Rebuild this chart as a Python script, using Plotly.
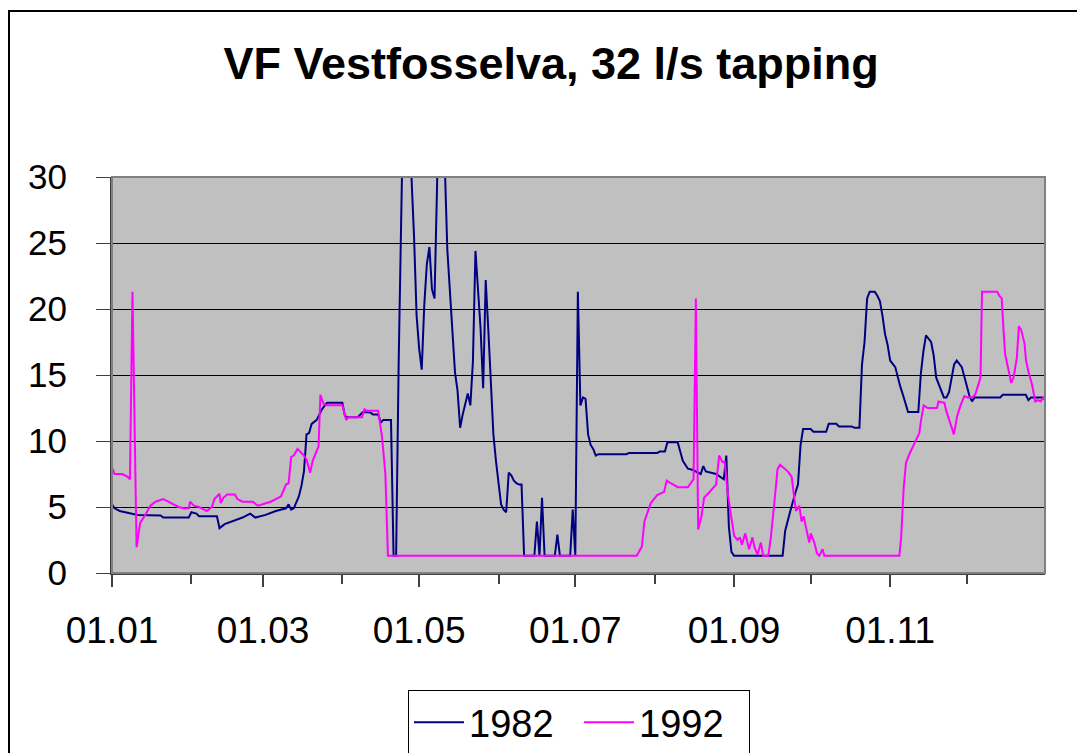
import pandas as pd
import plotly.graph_objects as go

# day of year (0 = 1 Jan) and flow in l/s
days_1982 = [0, 1, 3, 7, 10, 19, 20, 30, 31, 33, 34, 41, 42, 44, 47, 51, 54, 56, 60, 64,
             68, 69, 70, 71, 73, 74, 75, 76, 77, 78, 80, 82, 84, 90, 91, 92, 96, 98, 101, 102,
             104, 105, 106, 109, 110, 111, 112, 113, 114, 116, 117, 118, 119, 120, 121, 122, 123, 124, 125, 126,
             127, 128, 129, 130, 131, 132, 133, 134, 135, 136, 137, 138, 139, 140, 141, 142, 143, 144, 145, 146,
             147, 148, 149, 150, 151, 152, 153, 154, 155, 156, 157, 158, 159, 160, 161, 165, 166, 167, 168, 169,
             173, 174, 175, 179, 180, 181, 182, 183, 184, 185, 186, 187, 188, 189, 190, 201, 202, 213, 214, 216,
             217, 221, 222, 223, 225, 227, 230, 231, 232, 234, 236, 239, 240, 241, 242, 243, 262, 263, 264, 265,
             267, 268, 269, 270, 273, 274, 279, 280, 283, 284, 289, 290, 292, 293, 294, 295, 296, 298, 299, 300,
             301, 302, 303, 304, 306, 307, 308, 309, 311, 315, 316, 317, 318, 320, 321, 322, 324, 325, 326, 327,
             329, 330, 332, 333, 335, 336, 337, 347, 348, 357, 358, 359, 364]
flow_1982 = [5.2, 4.9, 4.7, 4.5, 4.4, 4.35, 4.2, 4.2, 4.6, 4.5, 4.3, 4.3, 3.4, 3.7, 3.9, 4.2, 4.5, 4.2, 4.4, 4.7,
             4.9, 5.2, 4.8, 4.9, 5.8, 6.6, 7.7, 10.5, 10.6, 11.3, 11.6, 12.4, 12.9, 12.9, 11.9, 11.8, 11.8, 12.2, 12.15, 12.0,
             12.0, 11.4, 11.6, 11.6, 1.3, 1.3, 16.0, 31.0, 38.0, 33.0, 30.0, 25.5, 19.5, 17.0, 15.4, 20.3, 23.4, 24.7, 21.5, 20.8,
             31.0, 38.0, 36.0, 31.0, 24.5, 21.5, 18.0, 15.2, 13.8, 11.0, 12.0, 12.8, 13.6, 12.7, 16.0, 24.4, 21.0, 18.5, 14.0, 22.2,
             18.5, 15.0, 10.5, 8.5, 6.8, 5.2, 4.8, 4.6, 7.6, 7.4, 7.0, 6.8, 6.7, 6.7, 1.3, 1.3, 3.9, 1.3, 5.7, 1.3,
             1.3, 2.9, 1.3, 1.3, 4.8, 1.3, 21.3, 12.7, 13.3, 13.2, 10.5, 9.7, 9.4, 8.9, 9.0, 9.0, 9.1, 9.1, 9.2, 9.2,
             9.9, 9.9, 9.2, 8.5, 7.9, 7.8, 7.5, 8.1, 7.7, 7.6, 7.5, 7.1, 8.9, 3.5, 1.6, 1.3, 1.3, 3.2, 4.0, 4.7,
             6.1, 6.7, 9.7, 10.9, 10.9, 10.7, 10.7, 11.3, 11.3, 11.1, 11.1, 11.0, 11.0, 15.8, 17.5, 20.8, 21.3, 21.3, 21.0, 20.6,
             19.5, 18.1, 17.3, 16.1, 15.6, 14.8, 14.1, 13.5, 12.2, 12.2, 15.1, 16.8, 18.0, 17.5, 16.5, 14.8, 13.8, 13.3, 13.3, 13.7,
             15.8, 16.1, 15.6, 14.8, 13.4, 13.0, 13.3, 13.3, 13.5, 13.5, 13.1, 13.3, 13.3]

days_1992 = [0, 1, 4, 6, 7, 8, 9.6, 11, 13, 15, 17, 19, 20, 22, 24, 26, 28, 30, 30.5, 32,
             34, 37, 39, 40, 42, 42.5, 43.5, 45, 48, 49, 51, 55, 57, 59, 62, 64, 66, 68, 69, 70,
             71, 72.5, 74.5, 76, 77.4, 78.4, 80.7, 81.4, 82.7, 84, 90, 91.5, 92.4, 97.7, 98.6, 99.6, 104, 105.5, 106.8, 107.8,
             205, 207, 208, 210.5, 213, 215.7, 216.7, 218.3, 221, 225, 226, 227.2, 228.1, 229, 230.3, 231.3, 233.3, 236, 237.2, 238.5,
             239.4, 240.5, 241.8, 243.1, 244.4, 245.3, 246.1, 247.4, 248.9, 250.2, 251.1, 252.2, 253.5, 254.4, 256.4, 257.4, 258.7, 260, 261, 264,
             265.5, 266.3, 267.2, 268.5, 269.4, 270.2, 271.5, 272.4, 273, 274.4, 275.4, 276.3, 277.6, 278.3, 307.6, 308.3, 309.3, 310.2, 311.5, 313.5,
             315.4, 316.1, 317.1, 318.7, 322.3, 322.9, 325.2, 325.9, 327.5, 328.9, 330.2, 331.5, 333, 334.3, 336, 337.2, 338.2, 339.3, 339.9, 345.8,
             346.7, 347.6, 348.3, 348.9, 350, 351.3, 352.2, 353.5, 354.3, 355.2, 356.5, 357.1, 358.1, 359.4, 360.7, 361.7, 362.8, 363.7, 364.3]
flow_1992 = [8.0, 7.5, 7.5, 7.3, 7.1, 21.3, 1.95, 3.8, 4.4, 5.1, 5.4, 5.5, 5.6, 5.4, 5.2, 5.0, 4.9, 4.9, 5.4, 5.1,
             5.0, 4.7, 5.0, 5.6, 6.0, 5.3, 5.7, 5.95, 5.95, 5.6, 5.4, 5.4, 5.1, 5.2, 5.4, 5.6, 5.8, 6.7, 6.8, 8.8,
             8.9, 9.4, 9.0, 8.6, 7.6, 8.5, 9.6, 13.5, 12.8, 12.7, 12.7, 11.6, 11.8, 11.8, 12.4, 12.3, 12.3, 10.3, 7.5, 1.3,
             1.3, 2.0, 3.9, 5.3, 5.9, 6.15, 7.0, 6.8, 6.5, 6.5, 6.8, 7.1, 20.8, 3.3, 4.3, 5.7, 6.1, 6.7, 8.9, 8.4,
             8.4, 6.1, 4.4, 2.8, 2.5, 2.7, 2.15, 3.0, 1.8, 2.7, 1.9, 1.4, 2.3, 1.3, 1.3, 2.7, 5.2, 7.85, 8.2, 7.7,
             7.3, 6.1, 4.7, 5.1, 3.9, 4.3, 3.2, 2.3, 3.0, 2.3, 1.5, 1.3, 1.8, 1.3, 1.3, 2.7, 6.5, 8.35, 9.0, 9.8,
             10.6, 11.6, 12.7, 12.5, 12.5, 13.0, 12.9, 12.3, 11.3, 10.5, 11.9, 12.7, 13.4, 13.3, 13.3, 13.5, 14.1, 14.8, 21.3, 21.3,
             21.0, 20.8, 18.4, 16.6, 15.6, 14.4, 14.8, 16.3, 18.7, 18.4, 17.4, 16.1, 15.2, 14.3, 13.0, 13.1, 13.0, 13.3, 13.1]

start = pd.Timestamp("2001-01-01")
x82 = start + pd.to_timedelta(days_1982, unit="D")
x92 = start + pd.to_timedelta(days_1992, unit="D")

# the page body has an 8px margin, so the figure is drawn 8px in from the window edge
OFF = 8
W, H = 1085 - OFF, 753 - OFF
L, R, T = 112 - OFF, 40, 177 - OFF
B = H - (573 - OFF)
pw, ph = W - L - R, H - T - B


def px_x(p):
    # window pixel -> paper x
    return (p - OFF - L) / pw


def px_y(p):
    # window pixel -> paper y
    return (H - B - (p - OFF)) / ph


fig = go.Figure()
fig.add_trace(go.Scatter(x=x82, y=flow_1982, name="1982", mode="lines",
                         line=dict(color="#000080", width=2)))
fig.add_trace(go.Scatter(x=x92, y=flow_1992, name="1992", mode="lines",
                         line=dict(color="#FF00FF", width=2)))

font = "Liberation Sans, Arial, sans-serif"
fig.update_layout(
    width=W, height=H,
    margin=dict(l=L, r=R, t=T, b=B, autoexpand=False),
    paper_bgcolor="white",
    plot_bgcolor="#C0C0C0",
    font=dict(family=font, size=35, color="black"),
    title=dict(text="<b>VF Vestfosselva, 32 l/s tapping</b>", x=(551 - OFF) / W, xanchor="center",
               y=1 - (63 - OFF) / H, yanchor="middle", font=dict(size=45)),
    showlegend=True,
    legend=dict(orientation="h", x=px_x(579), xanchor="center",
                yref="container", y=1 - (690 - OFF) / H, yanchor="top",
                bordercolor="black", borderwidth=1, bgcolor="white",
                font=dict(size=38), itemwidth=50, entrywidth=105, entrywidthmode="pixels"),
    shapes=[
        dict(type="rect", xref="paper", yref="paper", x0=0, x1=1, y0=0, y1=1,
             line=dict(color="#808080", width=2), layer="above"),
        dict(type="rect", xref="paper", yref="paper", x0=px_x(9), x1=px_x(1100),
             y0=px_y(770), y1=px_y(11), line=dict(color="black", width=2)),
    ],
)

fig.update_xaxes(
    type="date", range=["2001-01-01", "2001-12-31 12:00"],
    tick0="2001-01-01", dtick="M2", tickformat="%d.%m", tickfont=dict(size=37),
    ticks="outside", ticklen=12, tickcolor="#404040", tickwidth=2,
    minor=dict(dtick="M1", ticks="outside", ticklen=9, tickcolor="#404040", tickwidth=2),
    showline=True, linecolor="#404040", linewidth=2, showgrid=False,
    ticklabelstandoff=12, zeroline=False, automargin=False,
)
fig.update_yaxes(
    range=[0, 30], dtick=5, ticks="outside", ticklen=14, tickcolor="#404040", tickwidth=1,
    showline=True, linecolor="#404040", linewidth=2,
    showgrid=True, gridcolor="black", gridwidth=1, zeroline=False,
    ticklabelstandoff=22, automargin=False,
)

fig.write_html("out.html")
